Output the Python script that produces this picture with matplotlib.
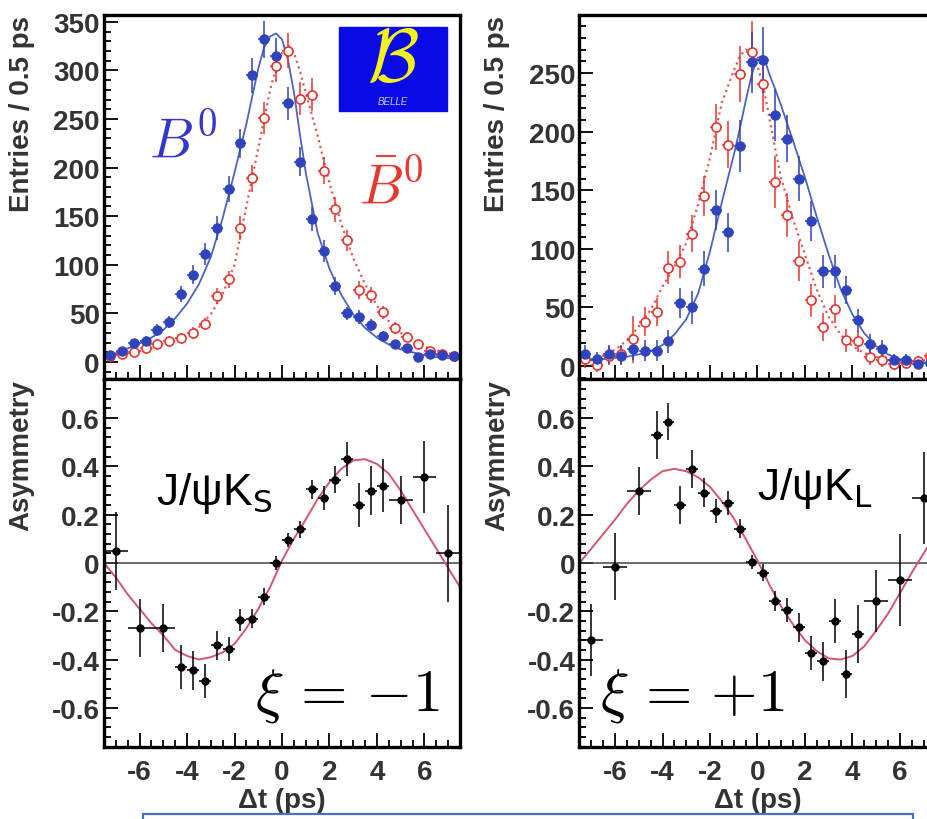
"""
Belle time-dependent CP plots: J/psi K_S (xi=-1) and J/psi K_L (xi=+1)
"""
import numpy as np
import matplotlib.pyplot as plt
from matplotlib.patches import Rectangle
from matplotlib.ticker import MultipleLocator, FuncFormatter

plt.rcParams['font.family'] = ['Liberation Sans', 'DejaVu Sans']
plt.rcParams['axes.unicode_minus'] = False

# 0.5 ps bins of the Delta t histograms
t_bins = [-7.25, -6.75, -6.25, -5.75, -5.25, -4.75, -4.25, -3.75, -3.25, -2.75,
          -2.25, -1.75, -1.25, -0.75, -0.25, 0.25, 0.75, 1.25, 1.75, 2.25,
          2.75, 3.25, 3.75, 4.25, 4.75, 5.25, 5.75, 6.25, 6.75, 7.25]

# J/psi K_S (left)
ks_b0 = [7, 11, 20, 22, 33, 41, 70, 90, 111, 138, 178, 225, 295, 332, 315,
         266, 206, 147, 114, 78, 50, 46, 38, 27, 18, 14, 5, 8, 7, 6]
ks_b0_err = [3, 3, 4, 5, 6, 6, 8, 10, 11, 12, 13, 15, 18, 19, 18,
             17, 15, 12, 11, 9, 7, 7, 6, 5, 4, 4, 2, 3, 3, 2]
ks_b0bar = [6, 8, 10, 14, 18, 22, 25, 30, 39, 68, 85, 138, 189, 251, 305,
            320, 271, 275, 197, 157, 125, 74, 69, 51, 35, 26, 18, 11, 8, 6]
ks_b0bar_err = [3, 3, 3, 4, 4, 5, 5, 6, 6, 8, 9, 12, 14, 16, 17,
                18, 17, 17, 14, 13, 11, 9, 8, 7, 6, 5, 4, 3, 3, 3]

# J/psi K_L (right)
kl_b0 = [10, 6, 10, 9, 15, 13, 13, 21, 54, 50, 83, 133, 114, 188, 259,
         261, 214, 194, 160, 124, 81, 81, 65, 39, 19, 15, 5, 5, 2, 3]
kl_b0_err = [8, 6, 8, 8, 10, 9, 9, 10, 13, 14, 15, 17, 17, 22, 26,
             28, 22, 20, 19, 17, 14, 14, 12, 10, 8, 7, 5, 5, 4, 4]
kl_b0bar = [6, 1, 9, 10, 23, 38, 46, 84, 89, 113, 145, 204, 189, 249, 268,
            241, 157, 129, 90, 56, 33, 49, 22, 21, 8, 5, 2, 3, 4, 9]
kl_b0bar_err = [8, 6, 8, 8, 20, 12, 12, 14, 14, 16, 17, 20, 20, 24, 26,
                24, 22, 19, 17, 14, 12, 12, 10, 9, 7, 6, 5, 5, 5, 6]

# fit curves of the histograms
fit_t = [-7.5, -7, -6.5, -6, -5.5, -5, -4.5, -4, -3.5, -3, -2.5, -2, -1.5, -1,
         -0.75, -0.5, -0.25, 0, 0.25, 0.5, 0.75, 1, 1.5, 2, 2.5, 3, 3.5, 4,
         4.5, 5, 5.5, 6, 6.5, 7, 7.5]
ks_b0_fit = [6, 9, 14, 19, 25, 33, 45, 60, 80, 108, 148, 195, 245, 302, 324,
             335, 338, 332, 311, 278, 235, 195, 133, 96, 69, 49, 35, 25, 18,
             13, 10, 7, 5, 4, 3]
ks_b0bar_fit = [5, 7, 9, 11, 14, 19, 24, 29, 36, 49, 70, 100, 160, 220, 250,
                280, 303, 318, 326, 318, 300, 277, 233, 184, 142, 107, 80, 58,
                42, 30, 22, 16, 12, 9, 6]
kl_b0_fit = [4, 5, 6, 7, 8, 10, 13, 18, 27, 40, 62, 98, 140, 180, 202, 226,
             248, 263, 265, 249, 236, 222, 192, 161, 127, 95, 66, 44, 28, 17,
             10, 6, 4, 3, 3]
kl_b0bar_fit = [3, 5, 9, 14, 22, 34, 48, 68, 85, 105, 138, 178, 225, 252, 264,
                270, 268, 256, 238, 212, 185, 160, 125, 95, 65, 42, 27, 17, 11,
                8, 5, 4, 4, 5, 6]

# asymmetry points (variable binning)
asym_t = [-7, -6, -5, -4.25, -3.75, -3.25, -2.75, -2.25, -1.75, -1.25, -0.75,
          -0.25, 0.25, 0.75, 1.25, 1.75, 2.25, 2.75, 3.25, 3.75, 4.25, 5, 6, 7]
asym_terr = [0.5, 0.5, 0.5, 0.25, 0.25, 0.25, 0.25, 0.25, 0.25, 0.25, 0.25,
             0.25, 0.25, 0.25, 0.25, 0.25, 0.25, 0.25, 0.25, 0.25, 0.25, 0.5,
             0.5, 0.5]
ks_asym = [0.05, -0.27, -0.27, -0.43, -0.445, -0.49, -0.34, -0.355, -0.235,
           -0.23, -0.14, 0.0, 0.095, 0.14, 0.305, 0.27, 0.345, 0.43, 0.24,
           0.3, 0.32, 0.26, 0.355, 0.04]
ks_asym_err = [0.16, 0.12, 0.1, 0.09, 0.08, 0.07, 0.06, 0.05, 0.045, 0.04,
               0.035, 0.03, 0.03, 0.035, 0.04, 0.05, 0.055, 0.07, 0.09, 0.1,
               0.11, 0.1, 0.15, 0.2]
kl_asym = [-0.32, -0.015, 0.297, 0.53, 0.585, 0.24, 0.39, 0.29, 0.215, 0.25,
           0.142, 0.005, -0.04, -0.157, -0.196, -0.267, -0.372, -0.407,
           -0.24, -0.46, -0.296, -0.157, -0.07, 0.27]
kl_asym_err = [0.15, 0.14, 0.1, 0.1, 0.076, 0.08, 0.08, 0.06, 0.05, 0.05, 0.04,
               0.03, 0.035, 0.04, 0.05, 0.06, 0.07, 0.08, 0.09, 0.1, 0.12,
               0.13, 0.19, 0.19]

asym_fit_t = [-7.5, -7, -6.5, -6, -5.5, -5, -4.5, -4, -3.5, -3, -2.5, -2, -1.5,
              -1, -0.5, 0, 0.5, 1, 1.5, 2, 2.5, 3, 3.5, 4, 4.5, 5, 5.5, 6,
              6.5, 7, 7.5]
ks_asym_fit = [0.0, -0.06, -0.13, -0.19, -0.25, -0.30, -0.36, -0.385, -0.40,
               -0.39, -0.37, -0.335, -0.27, -0.19, -0.10, 0.01, 0.10, 0.18,
               0.265, 0.335, 0.39, 0.425, 0.43, 0.41, 0.37, 0.30, 0.22, 0.14,
               0.06, -0.02, -0.10]
kl_asym_fit = [0.0, 0.06, 0.12, 0.18, 0.245, 0.30, 0.345, 0.38, 0.39, 0.38,
               0.355, 0.315, 0.255, 0.185, 0.10, 0.01, -0.09, -0.18, -0.255,
               -0.32, -0.365, -0.395, -0.40, -0.385, -0.345, -0.28, -0.21,
               -0.125, -0.04, 0.04, 0.12]

BLUE = '#2f43bd'
BLUE_LINE = '#4d63c4'
RED = '#e8352e'
RED_LINE = '#e35a5a'
ASYM_LINE = '#d4566e'
TXT = '#333333'

fig = plt.figure(figsize=(9.28, 8.2), dpi=100)

left_x, right_x, width = 104 / 928, 579.5 / 928, 356 / 928
top_y, top_h = 1 - 380 / 820, 364 / 820
bot_y, bot_h = 1 - 748 / 820, 368 / 820

ax_tl = fig.add_axes([left_x, top_y, width, top_h])
ax_bl = fig.add_axes([left_x, bot_y, width, bot_h])
ax_tr = fig.add_axes([right_x, top_y, width, top_h])
ax_br = fig.add_axes([right_x, bot_y, width, bot_h])

fmt = FuncFormatter(lambda v, p: f'{v:g}')


def style(ax, ymajor, yminor):
    for s in ax.spines.values():
        s.set_linewidth(2.4)
    ax.set_xlim(-7.5, 7.5)
    ax.xaxis.set_major_locator(MultipleLocator(2))
    ax.xaxis.set_minor_locator(MultipleLocator(0.5))
    ax.yaxis.set_major_locator(MultipleLocator(ymajor))
    ax.yaxis.set_minor_locator(MultipleLocator(yminor))
    ax.yaxis.set_major_formatter(fmt)
    ax.xaxis.set_major_formatter(fmt)
    ax.tick_params(which='both', direction='in', top=False, right=False,
                   labelsize=20, labelcolor=TXT, width=1.3)
    ax.tick_params(which='major', length=10)
    ax.tick_params(which='minor', length=5)
    ax.tick_params(axis='y', pad=3)
    ax.tick_params(axis='x', pad=9)
    for lab in ax.get_xticklabels() + ax.get_yticklabels():
        lab.set_fontweight('bold')


def top_panel(ax, b0, b0e, bb, bbe, b0f, bbf, ylim):
    style(ax, 50, 10)
    ax.set_ylim(*ylim)
    ax.plot(fit_t, bbf, ':', color=RED_LINE, lw=1.6)
    ax.plot(fit_t, b0f, '-', color=BLUE_LINE, lw=1.3)
    ax.errorbar(t_bins, bb, yerr=bbe, xerr=0.25, fmt='o', ms=6.5,
                mfc='white', mec=RED, mew=1.2, ecolor=RED, elinewidth=1.1,
                capsize=0)
    ax.errorbar(t_bins, b0, yerr=b0e, xerr=0.25, fmt='o', ms=6.5,
                color=BLUE, elinewidth=1.1, capsize=0)
    ax.tick_params(axis='x', labelbottom=False)
    ax.set_ylabel('Entries / 0.5 ps', fontsize=20, fontweight='bold',
                  color=TXT, loc='top')
    ax.yaxis.set_label_coords(-0.195, 1.0)


def asym_panel(ax, vals, errs, fit):
    style(ax, 0.2, 0.04)
    ax.set_ylim(-0.762, 0.762)
    ax.axhline(0, color='#444444', lw=1.1)
    ax.plot(asym_fit_t, fit, color=ASYM_LINE, lw=1.4)
    ax.errorbar(asym_t, vals, yerr=errs, xerr=asym_terr, fmt='o', ms=5,
                color='black', elinewidth=1.1, capsize=0)
    ax.set_ylabel('Asymmetry', fontsize=20, fontweight='bold', color=TXT,
                  loc='top')
    ax.yaxis.set_label_coords(-0.195, 1.0)
    ax.set_xlabel('Δt (ps)', fontsize=20, fontweight='bold', color=TXT,
                  labelpad=1)


top_panel(ax_tl, ks_b0, ks_b0_err, ks_b0bar, ks_b0bar_err, ks_b0_fit,
          ks_b0bar_fit, (-17.5, 357))
top_panel(ax_tr, kl_b0, kl_b0_err, kl_b0bar, kl_b0bar_err, kl_b0_fit,
          kl_b0bar_fit, (-11, 299.5))
asym_panel(ax_bl, ks_asym, ks_asym_err, ks_asym_fit)
asym_panel(ax_br, kl_asym, kl_asym_err, kl_asym_fit)

# flavour labels
ax_tl.text(-5.6, 211, r'$B^0$', color='#3535cf', fontsize=40,
           math_fontfamily='cm', ha='left', va='baseline')
ax_tl.text(3.25, 163, r'$\bar{B}^0$', color=RED, fontsize=40,
           math_fontfamily='cm', ha='left', va='baseline')

# Belle logo
ax_tl.add_patch(Rectangle((0.661, 0.736), 0.303, 0.231,
                          transform=ax_tl.transAxes, color='#0a0ae6',
                          zorder=5))
ax_tl.text(0.812, 0.875, r'$\mathcal{B}$', transform=ax_tl.transAxes,
           color='#f2f21a', fontsize=54, math_fontfamily='cm',
           ha='center', va='center', zorder=6)
ax_tl.text(0.812, 0.765, 'BELLE', transform=ax_tl.transAxes,
           color='#c8c8f0', fontsize=7, style='italic',
           ha='center', va='center', zorder=6)

# channel and CP labels
ax_bl.text(-5.3, 0.245, r'J/ψK$_\mathsf{S}$', fontsize=32, color='black',
           math_fontfamily='dejavusans', ha='left', va='baseline')
ax_br.text(0.0, 0.265, r'J/ψK$_\mathsf{L}$', fontsize=32, color='black',
           math_fontfamily='dejavusans', ha='left', va='baseline')
ax_bl.text(-1.12, -0.605, r'$\xi\,=\,{-1}$', fontsize=43,
           math_fontfamily='cm', ha='left', va='baseline')
ax_br.text(-6.63, -0.605, r'$\xi\,=\,{+1}$', fontsize=43,
           math_fontfamily='cm', ha='left', va='baseline')

# outline of the slide box at the bottom
fig.add_artist(Rectangle((143 / 928, -0.01), 770 / 928, 0.0161,
                         transform=fig.transFigure, fill=False,
                         edgecolor='#4472c4', lw=1.6))

fig.savefig('out.png', dpi=100)
